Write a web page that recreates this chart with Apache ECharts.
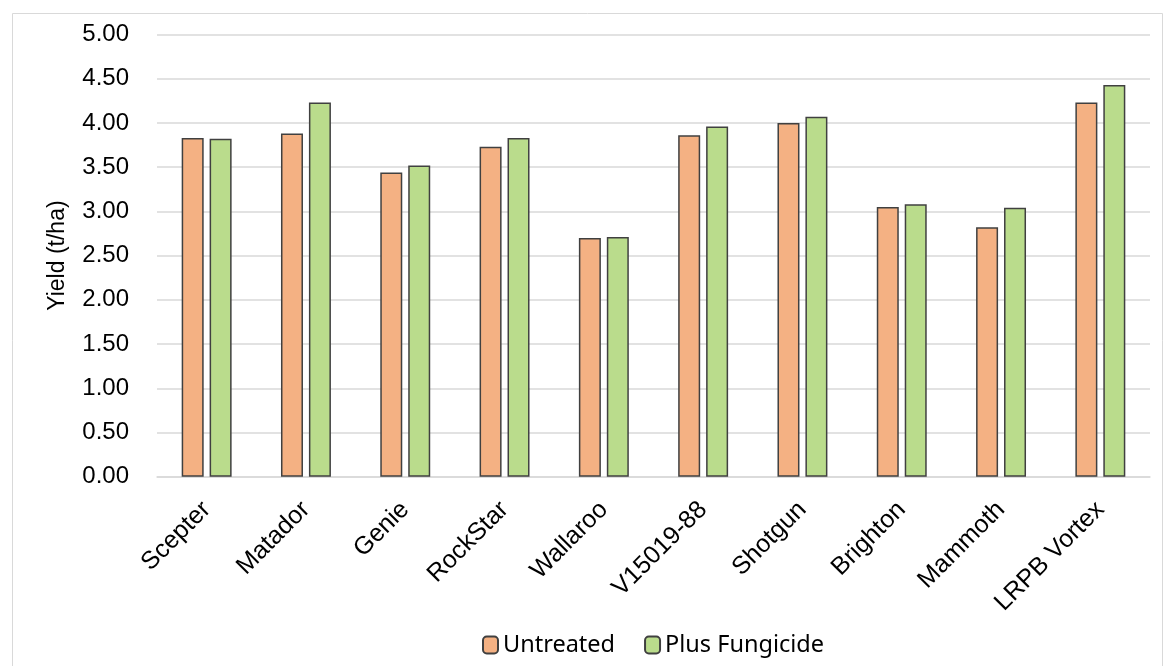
<!DOCTYPE html>
<html>
<head>
<meta charset="utf-8">
<title>Yield by variety</title>
<script src="https://cdn.jsdelivr.net/npm/echarts@6/dist/echarts.min.js"></script>
<style>
  html, body { margin: 0; padding: 0; background: #ffffff; }
  #chart { width: 1170px; height: 666px; }
</style>
</head>
<body>
<div id="chart"></div>
<script>
// Grain yield (t/ha) per variety, with and without fungicide
const varieties = ['Scepter', 'Matador', 'Genie', 'RockStar', 'Wallaroo', 'V15019-88', 'Shotgun', 'Brighton', 'Mammoth', 'LRPB Vortex'];
const untreated = [3.83, 3.88, 3.44, 3.73, 2.70, 3.86, 4.00, 3.05, 2.82, 4.23];
const plusFungicide = [3.82, 4.23, 3.52, 3.83, 2.71, 3.96, 4.07, 3.08, 3.04, 4.43];
const seriesNames = ['Untreated', 'Plus Fungicide'];
const yTicks = { min: 0, max: 5, interval: 0.5 };

const labelFont = 'Liberation Sans, Arial, sans-serif';
const chart = echarts.init(document.getElementById('chart'), null, { renderer: 'canvas' });

chart.setOption({
  animation: false,
  backgroundColor: '#ffffff',
  graphic: [{
    type: 'rect',
    left: 10, top: 11,
    shape: { width: 1150, height: 670 },
    style: { fill: 'none', stroke: '#d9d9d9', lineWidth: 1 },
    silent: true, z: -1
  }],
  grid: { left: 157, right: 20, top: 34.5, bottom: 189.3, containLabel: false },
  legend: {
    data: seriesNames,
    bottom: 4,
    left: 477,
    itemWidth: 15,
    itemHeight: 17,
    itemGap: 29,
    textStyle: { fontFamily: 'Noto Sans, Open Sans, sans-serif', fontSize: 23.5, color: '#000000' }
  },
  xAxis: {
    type: 'category',
    data: varieties,
    axisLine: { show: true, lineStyle: { color: '#d9d9d9', width: 1.5 } },
    axisTick: { show: false },
    axisLabel: {
      rotate: 45,
      interval: 0,
      margin: 29,
      fontFamily: labelFont,
      fontSize: 25,
      color: '#000000'
    }
  },
  yAxis: {
    type: 'value',
    min: yTicks.min,
    max: yTicks.max,
    interval: yTicks.interval,
    name: 'Yield (t/ha)',
    nameLocation: 'middle',
    nameGap: 88,
    nameTextStyle: { fontFamily: labelFont, fontSize: 23, color: '#000000' },
    axisLine: { show: false },
    axisTick: { show: false },
    splitLine: { lineStyle: { color: '#d9d9d9', width: 1.5 } },
    axisLabel: {
      margin: 28,
      fontFamily: labelFont,
      fontSize: 24,
      color: '#000000',
      formatter: v => v.toFixed(2)
    }
  },
  series: [
    {
      name: seriesNames[0],
      type: 'bar',
      data: untreated,
      barWidth: 22,
      barGap: '27%',
      itemStyle: { color: '#F4B183', borderColor: '#404040', borderWidth: 1.5 }
    },
    {
      name: seriesNames[1],
      type: 'bar',
      data: plusFungicide,
      barWidth: 22,
      itemStyle: { color: '#BADC8C', borderColor: '#404040', borderWidth: 1.5 }
    }
  ]
});
</script>
</body>
</html>
